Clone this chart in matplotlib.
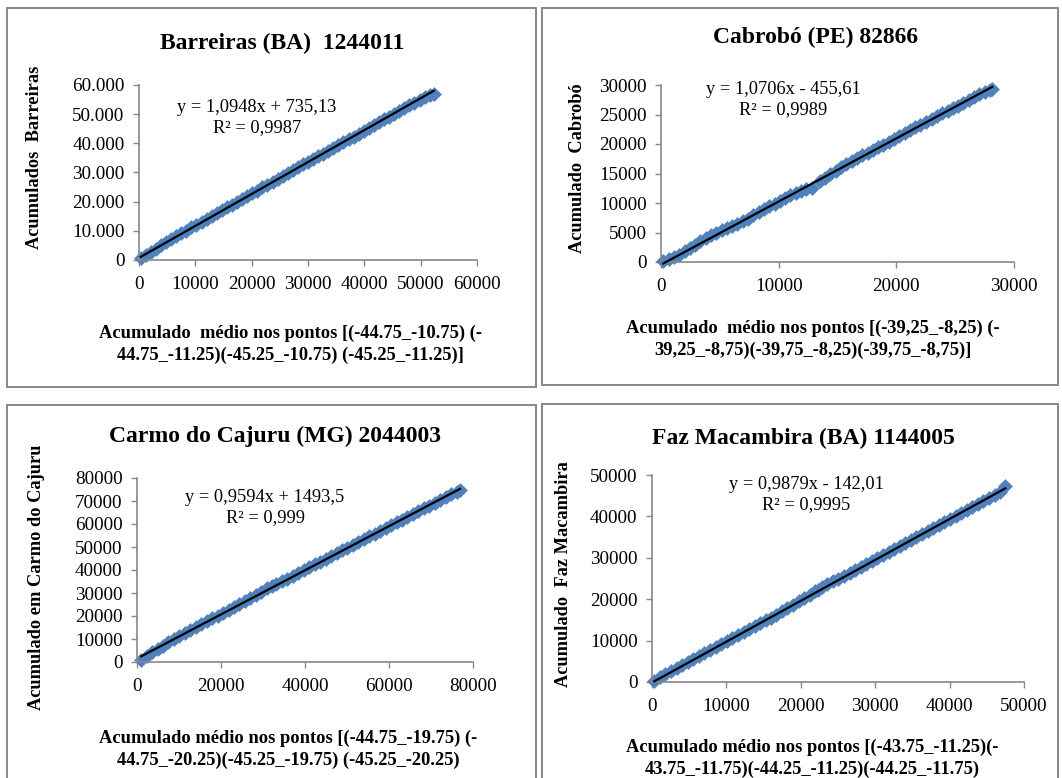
import matplotlib
matplotlib.use("Agg")
import matplotlib.pyplot as plt
from matplotlib.patches import Rectangle
from matplotlib.ticker import FuncFormatter
import numpy as np

plt.rcParams['font.family'] = ['Liberation Serif', 'DejaVu Serif']

# ---------------- data ----------------
# Barreiras (BA) 1244011
bar_x = [300, 1200, 2100, 3000, 3900, 4800, 5700, 6600, 7500, 8400, 9300, 10200, 11100, 12000,
         12900, 13800, 14700, 15600, 16500, 17400, 18300, 19200, 20100, 21000, 21900, 22800,
         23700, 24600, 25500, 26400, 27300, 28200, 29100, 30000, 30900, 31800, 32700, 33600,
         34500, 35400, 36300, 37200, 38100, 39000, 39900, 40800, 41700, 42600, 43500, 44400,
         45300, 46200, 47100, 48000, 48900, 49800, 50700, 51600, 52300]
bar_y = [650, 1800, 2900, 3900, 5000, 6100, 7200, 8100, 9100, 10100, 11200, 12100, 13100, 14000,
         15100, 16000, 17000, 18100, 18900, 20000, 21000, 21900, 22900, 23800, 24900, 25800,
         26800, 27700, 28800, 29900, 31000, 31900, 32800, 33600, 34500, 35500, 36500, 37400,
         38500, 39400, 40300, 41400, 42300, 43300, 44300, 45200, 46300, 47200, 48200, 49100,
         50100, 51100, 52000, 53000, 53900, 54900, 55800, 56600, 57000]
bar_fit = (1.0948, 735.13)

# Cabrobó (PE) 82866
cab_x = [200, 650, 1100, 1550, 2000, 2450, 2900, 3350, 3800, 4250, 4700, 5150, 5600, 6050, 6500, 6950,
         7400, 7850, 8300, 8750, 9200, 9650, 10100, 10550, 11000, 11450, 11900, 12350, 12800,
         13500, 13950, 14400, 14850, 15300, 15750, 16200, 16650, 17100, 17550, 18000, 18450,
         18900, 19350, 19800, 20250, 20700, 21150, 21600, 22050, 22500,
         23000, 23450, 23900, 24350, 24800, 25250, 25700, 26150, 26600, 27050, 27500, 27950, 28150]
cab_y = [100, 450, 900, 1200, 1800, 2400, 2900, 3500, 4100, 4600, 5000, 5400, 5700, 6100, 6500, 6900,
         7300, 7900, 8500, 9000, 9500, 9900, 10400, 10800, 11300, 11700, 12100, 12400, 12600,
         13700, 14300, 14900, 15500, 16100, 16600, 17100, 17600, 18100, 18500, 19000, 19500,
         19900, 20400, 20900, 21400, 21900, 22300, 22800, 23300, 23700,
         24200, 24700, 25200, 25600, 26100, 26500, 27000, 27500, 27900, 28400, 28800, 29200, 29400]
cab_fit = (1.0706, -455.61)

# Carmo do Cajuru (MG) 2044003
car_x = [1000, 2300, 3600, 4900, 6200, 7500, 8800, 10100, 11400, 12700, 14000, 15300, 16600, 17900,
         19200, 20500, 21800, 23100, 24400, 25700, 27000, 28300, 29600, 30900, 32200,
         33200, 34500, 35800, 37100, 38400, 39700, 41000, 42300, 43600, 44900, 46200, 47500,
         48800, 50100, 51400, 52700, 54000, 55300, 56600, 57900, 59200, 60500, 61800, 63100,
         64400, 65700, 67000, 68300, 69600, 70900, 72200, 73500, 74800, 76100, 76900]
car_y = [800, 2600, 4200, 5700, 7100, 8500, 9900, 11300, 12600, 13900, 15200, 16500, 17700, 19000,
         20200, 21500, 22700, 23900, 25200, 26500, 27800, 29200, 30500, 32000, 33000,
         34000, 35100, 36300, 37500, 38700, 39900, 41200, 42400, 43600, 44900, 46100, 47300,
         48500, 49700, 50900, 52200, 53400, 54600, 55800, 57000, 58300, 59400, 60700, 61900,
         63100, 64400, 65600, 66800, 68000, 69200, 70400, 71700, 72900, 74000, 74600]
car_fit = (0.9594, 1493.5)

# Faz Macambira (BA) 1144005
faz_x = [300, 1050, 1800, 2550, 3300, 4050, 4800, 5550, 6300, 7050, 7800, 8550, 9300, 10050, 10800,
         11550, 12300, 13050, 13800, 14550, 15300, 16000,
         16700, 17450, 18200, 18950, 19700, 20450, 21200, 21950, 22300,
         22800, 23550, 24300, 25050, 25800, 26550, 27300, 28050, 28800, 29550, 30300, 31050,
         31800, 32550, 33300, 34050, 34800, 35550, 36300, 37050, 37800, 38550, 39300, 40050,
         40800, 41550, 42300, 43050, 43800, 44550, 45300, 46050, 46800, 47500]
faz_y = [300, 1100, 1900, 2700, 3500, 4200, 4900, 5600, 6300, 7000, 7800, 8500, 9200, 9900, 10700,
         11400, 12100, 12800, 13600, 14300, 15000, 15500,
         16300, 17100, 17900, 18700, 19500, 20300, 21100, 21900, 22300,
         22900, 23600, 24300, 25000, 25700, 26400, 27100, 27800, 28500, 29200, 29900, 30700,
         31400, 32100, 32800, 33600, 34300, 35000, 35700, 36500, 37200, 37900, 38600, 39300,
         40000, 40800, 41500, 42200, 42900, 43700, 44400, 45200, 46000, 47300]
faz_fit = (0.9879, -142.01)

# ---------------- layout ----------------
W, H = 1062, 778
fig = plt.figure(figsize=(W / 100, H / 100), dpi=100)
fig.patch.set_facecolor('white')

BLUE = '#4F81BD'
GRAY = '#878787'


def frac_rect(l, r, t, b):
    return [l / W, 1 - b / H, (r - l) / W, (b - t) / H]


def ftext(x, y, s, **kw):
    fig.text(x / W, 1 - y / H, s, ha='center', va='center', **kw)


def frame(x0, y0, x1, y1):
    fig.add_artist(Rectangle((x0 / W, 1 - y1 / H), (x1 - x0) / W, (y1 - y0) / H,
                             transform=fig.transFigure, fill=False,
                             edgecolor=GRAY, lw=1.4))


def dotfmt(v, pos):
    v = int(round(v))
    return f"{v:,}".replace(",", ".")


panels = [
    dict(frame=(7, 8, 536, 387), ax=(139, 477, 85, 260), x=bar_x, y=bar_y, fit=bar_fit,
         xlim=60000, ylim=60000, xstep=10000, ystep=10000, yfmt=dotfmt,
         title="Barreiras (BA)  1244011", tpos=(282, 43),
         eq="y = 1,0948x + 735,13", r2="R² = 0,9987", epos=(257, 107),
         ylabel="Acumulados  Barreiras", ypos=(35, 157),
         xl1="Acumulado  médio nos pontos [(-44.75_-10.75) (-",
         xl2="44.75_-11.25)(-45.25_-10.75) (-45.25_-11.25)]", xpos=(290, 333)),
    dict(frame=(542, 8, 1058, 385), ax=(661, 1014, 85, 262), x=cab_x, y=cab_y, fit=cab_fit,
         xlim=30000, ylim=30000, xstep=10000, ystep=5000, yfmt=None,
         title="Cabrobó (PE) 82866", tpos=(816, 37),
         eq="y = 1,0706x - 455,61", r2="R² = 0,9989", epos=(783, 89),
         ylabel="Acumulado  Cabrobó", ypos=(578, 168),
         xl1="Acumulado  médio nos pontos [(-39,25_-8,25) (-",
         xl2="39,25_-8,75)(-39,75_-8,25)(-39,75_-8,75)]", xpos=(813, 328)),
    dict(frame=(7, 405, 536, 780), ax=(137, 473, 478, 662), x=car_x, y=car_y, fit=car_fit,
         xlim=80000, ylim=80000, xstep=20000, ystep=10000, yfmt=None,
         title="Carmo do Cajuru (MG) 2044003", tpos=(275, 436),
         eq="y = 0,9594x + 1493,5", r2="R² = 0,999", epos=(265, 497),
         ylabel="Acumulado em Carmo do Cajuru", ypos=(37, 577),
         xl1="Acumulado médio nos pontos [(-44.75_-19.75) (-",
         xl2="44.75_-20.25)(-45.25_-19.75) (-45.25_-20.25)", xpos=(288, 738)),
    dict(frame=(542, 404, 1058, 780), ax=(652, 1024, 475, 682), x=faz_x, y=faz_y, fit=faz_fit,
         xlim=50000, ylim=50000, xstep=10000, ystep=10000, yfmt=None,
         title="Faz Macambira (BA) 1144005", tpos=(803, 438),
         eq="y = 0,9879x - 142,01", r2="R² = 0,9995", epos=(806, 484),
         ylabel="Acumulado  Faz Macambira", ypos=(563, 574),
         xl1="Acumulado médio nos pontos [(-43.75_-11.25)(-",
         xl2="43.75_-11.75)(-44.25_-11.25)(-44.25_-11.75)", xpos=(812, 747)),
]

for p in panels:
    frame(*p['frame'])
    ax = fig.add_axes(frac_rect(*p['ax']))
    ax.set_facecolor('none')
    xs = np.array(p['x'], dtype=float)
    ys = np.array(p['y'], dtype=float)
    ax.plot(xs, ys, linestyle='none', marker='D', markersize=7.4,
            markerfacecolor=BLUE, markeredgecolor=BLUE, markeredgewidth=0.4, zorder=2)
    slope, icpt = p['fit']
    xl = np.array([xs.min(), xs.max()])
    ax.plot(xl, slope * xl + icpt, color='black', lw=1.6, zorder=3)
    ax.set_xlim(0, p['xlim'])
    ax.set_ylim(0, p['ylim'])
    ax.set_xticks(np.arange(0, p['xlim'] + 1, p['xstep']))
    ax.set_yticks(np.arange(0, p['ylim'] + 1, p['ystep']))
    if p['yfmt'] is not None:
        ax.yaxis.set_major_formatter(FuncFormatter(p['yfmt']))
    for s in ['top', 'right']:
        ax.spines[s].set_visible(False)
    for s in ['left', 'bottom']:
        ax.spines[s].set_color(GRAY)
        ax.spines[s].set_linewidth(1.2)
    ax.tick_params(axis='both', direction='out', length=4.5, width=1.0, color=GRAY,
                   labelsize=13.8, labelcolor='black')
    ax.tick_params(axis='y', pad=6)
    ax.tick_params(axis='x', pad=7)
    for art in ax.lines:
        art.set_clip_on(False)

    ftext(*p['tpos'], p['title'], fontsize=17, fontweight='bold')
    ex, ey = p['epos']
    ftext(ex, ey, p['eq'], fontsize=13.2)
    ftext(ex, ey + 21, p['r2'], fontsize=13.2)
    ftext(*p['ypos'], p['ylabel'], fontsize=13.2, fontweight='bold', rotation=90)
    xx, xy = p['xpos']
    ftext(xx, xy, p['xl1'], fontsize=13.3, fontweight='bold')
    ftext(xx, xy + 22, p['xl2'], fontsize=13.3, fontweight='bold')

fig.savefig('out.png', dpi=100, facecolor='white')
